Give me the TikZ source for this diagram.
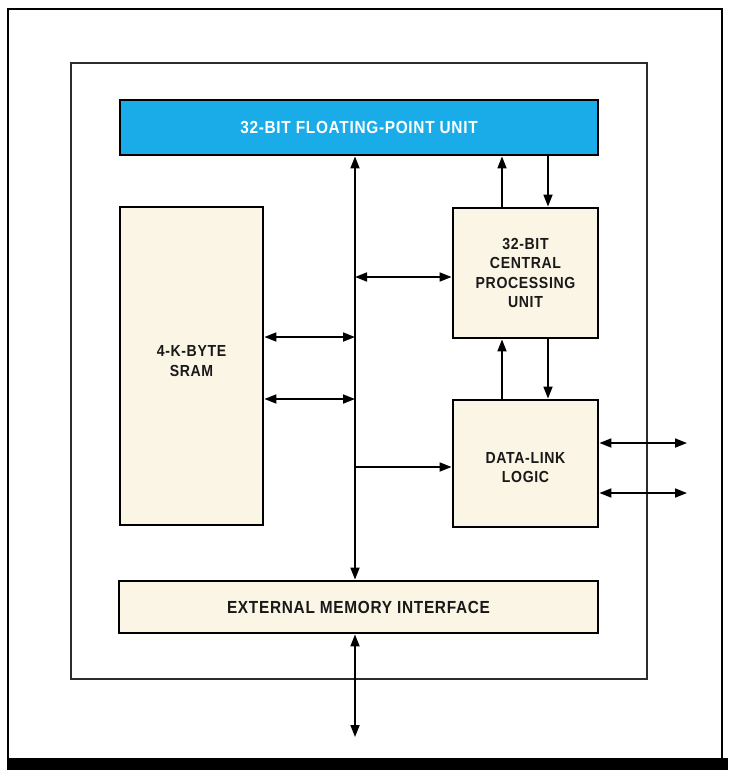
\documentclass[tikz,border=0pt]{standalone}
\usepackage{fontspec}
\usetikzlibrary{arrows.meta}
\newfontfamily\lblfont{Liberation Sans}[FakeStretch=0.88,LetterSpace=4]
\definecolor{fpublue}{RGB}{25,172,232}
\definecolor{cream}{RGB}{250,245,228}
\definecolor{ink}{RGB}{25,25,25}
\definecolor{framegray}{RGB}{45,45,45}
\tikzset{
  box/.style={draw=black, line width=2.8pt, fill=cream, inner sep=0pt},
  lbl/.style={font=\lblfont\bfseries\fontsize{16}{19.5}\selectfont, text=ink, align=center},
  widelbl/.style={font=\lblfont\bfseries\fontsize{17.5}{20}\selectfont, align=center},
  conn/.style={draw=black, line width=1.7pt},
  onetip/.style={conn, -{Triangle[length=12pt,width=9pt]}},
  twotip/.style={conn, {Triangle[length=12pt,width=9pt]}-{Triangle[length=12pt,width=9pt]}},
}
\begin{document}
\begin{tikzpicture}[x=1pt,y=-1pt]
\useasboundingbox (0,0) rectangle (728,770);
% frames
\draw[line width=1.5pt, draw=black] (8,9) rectangle (722,764);
\fill[black] (7,758) rectangle (728,770);
\draw[line width=1.8pt, draw=framegray] (71,63) rectangle (647,679);
% boxes
\node[box, fill=fpublue, minimum width=478pt, minimum height=55pt] (fpu) at (359,127.5) {};
\node[widelbl, text=white] at (fpu.center) {32-BIT FLOATING-POINT UNIT};
\node[box, minimum width=145pt, minimum height=130pt] (cpu) at (525.5,273) {};
\node[lbl] at (cpu.center) {32-BIT\\CENTRAL\\PROCESSING\\UNIT};
\node[box, minimum width=143pt, minimum height=318pt] (sram) at (191.5,366) {};
\node[lbl] at ([yshift=5pt]sram.center) {4-K-BYTE\\SRAM};
\node[box, minimum width=145pt, minimum height=127pt] (dll) at (525.5,463.5) {};
\node[lbl] at ([yshift=-4pt]dll.center) {DATA-LINK\\LOGIC};
\node[box, minimum width=479pt, minimum height=52pt] (emi) at (358.5,607) {};
\node[widelbl, text=ink] at (emi.center) {EXTERNAL MEMORY INTERFACE};
% helper coordinates
\coordinate (busx) at (355,0);
\coordinate (upx) at (502,0);
\coordinate (dnx) at (548,0);
\coordinate (ycpu) at (0,277);
\coordinate (ys1) at (0,337);
\coordinate (ys2) at (0,399);
\coordinate (ydl) at (0,467);
\coordinate (yo1) at (0,443);
\coordinate (yo2) at (0,493);
\coordinate (outx) at (687,0);
\coordinate (extbot) at (355,737);
% bus
\draw[twotip] (fpu.south -| busx) -- (emi.north -| busx);
\draw[twotip] (busx |- ycpu) -- (cpu.west |- ycpu);
\draw[twotip] (sram.east |- ys1) -- (busx |- ys1);
\draw[twotip] (sram.east |- ys2) -- (busx |- ys2);
\draw[onetip] (busx |- ydl) -- (dll.west |- ydl);
% cpu links
\draw[onetip] (cpu.north -| upx) -- (fpu.south -| upx);
\draw[onetip] (fpu.south -| dnx) -- (cpu.north -| dnx);
\draw[onetip] (dll.north -| upx) -- (cpu.south -| upx);
\draw[onetip] (cpu.south -| dnx) -- (dll.north -| dnx);
% data-link outputs
\draw[twotip] (dll.east |- yo1) -- (outx |- yo1);
\draw[twotip] (dll.east |- yo2) -- (outx |- yo2);
% external
\draw[twotip] (emi.south -| busx) -- (extbot);
\end{tikzpicture}
\end{document}
